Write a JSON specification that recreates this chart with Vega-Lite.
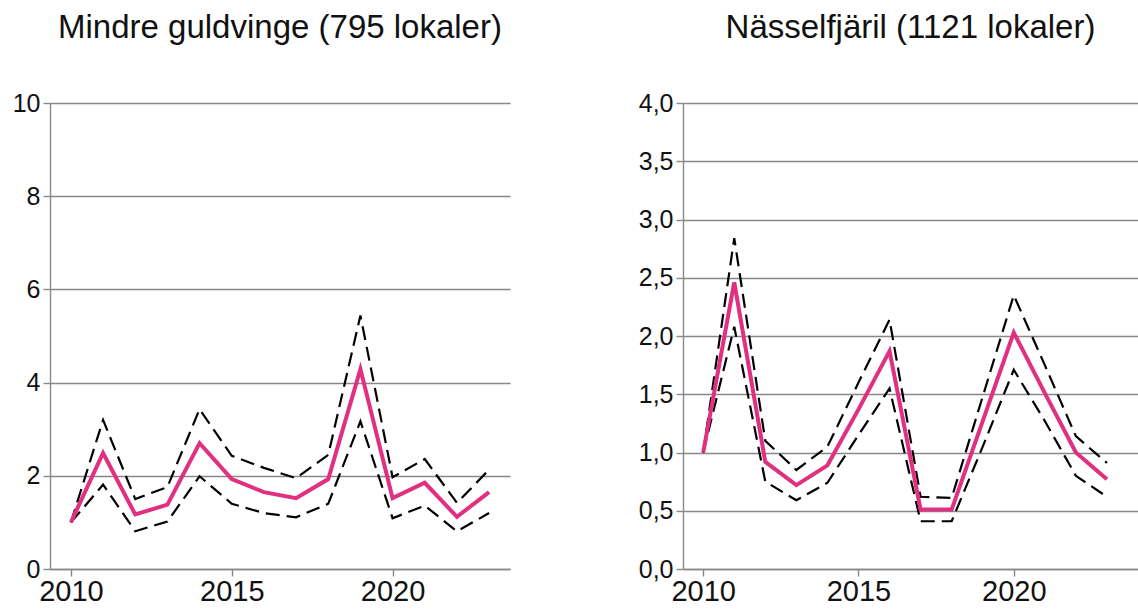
{
  "$schema": "https://vega.github.io/schema/vega-lite/v6.json",
  "background": "white",
  "padding": {"top": 12, "left": 0, "right": 0, "bottom": 0},
  "spacing": 113,
  "config": {
    "view": {"stroke": null},
    "font": "Liberation Sans",
    "title": {"font": "Liberation Sans", "fontSize": 33, "fontWeight": "normal", "color": "#111", "frame": "group", "anchor": "middle", "offset": 46},
    "axis": {
      "domainColor": "#888", "domainWidth": 1.4, "tickColor": "#888", "tickWidth": 1.4, "tickSize": 7,
      "gridColor": "#888", "gridWidth": 1.4, "labelFont": "Liberation Sans", "labelFontSize": 25,
      "labelColor": "#111", "labelPadding": 3, "title": null
    },
    "axisX": {"labelFontSize": 29, "labelPadding": 1}
  },
  "datasets": {
    "guld": [
      {"year": 2010, "est": 1.0, "lo": 1.0, "hi": 1.0},
      {"year": 2011, "est": 2.49, "lo": 1.81, "hi": 3.2},
      {"year": 2012, "est": 1.17, "lo": 0.81, "hi": 1.5},
      {"year": 2013, "est": 1.38, "lo": 1.02, "hi": 1.76},
      {"year": 2014, "est": 2.7, "lo": 1.99, "hi": 3.43},
      {"year": 2015, "est": 1.93, "lo": 1.4, "hi": 2.43},
      {"year": 2016, "est": 1.65, "lo": 1.2, "hi": 2.17},
      {"year": 2017, "est": 1.52, "lo": 1.11, "hi": 1.95},
      {"year": 2018, "est": 1.93, "lo": 1.4, "hi": 2.45},
      {"year": 2019, "est": 4.29, "lo": 3.17, "hi": 5.44},
      {"year": 2020, "est": 1.52, "lo": 1.09, "hi": 1.97},
      {"year": 2021, "est": 1.85, "lo": 1.36, "hi": 2.36},
      {"year": 2022, "est": 1.12, "lo": 0.81, "hi": 1.42},
      {"year": 2023, "est": 1.65, "lo": 1.2, "hi": 2.13}
    ],
    "nassel": [
      {"year": 2010, "est": 1.0, "lo": 1.0, "hi": 1.0},
      {"year": 2011, "est": 2.46, "lo": 2.08, "hi": 2.84},
      {"year": 2012, "est": 0.92, "lo": 0.75, "hi": 1.1},
      {"year": 2013, "est": 0.72, "lo": 0.59, "hi": 0.85},
      {"year": 2014, "est": 0.89, "lo": 0.74, "hi": 1.05},
      {"year": 2015, "est": 1.37, "lo": 1.15, "hi": 1.6},
      {"year": 2016, "est": 1.87, "lo": 1.55, "hi": 2.14},
      {"year": 2017, "est": 0.51, "lo": 0.41, "hi": 0.62},
      {"year": 2018, "est": 0.51, "lo": 0.41, "hi": 0.61},
      {"year": 2019, "est": 1.27, "lo": 1.05, "hi": 1.48},
      {"year": 2020, "est": 2.03, "lo": 1.71, "hi": 2.35},
      {"year": 2021, "est": 1.51, "lo": 1.27, "hi": 1.75},
      {"year": 2022, "est": 1.0, "lo": 0.8, "hi": 1.14},
      {"year": 2023, "est": 0.77, "lo": 0.62, "hi": 0.91}
    ]
  },
  "hconcat": [
    {
      "title": "Mindre guldvinge (795 lokaler)",
      "width": 460,
      "height": 466,
      "data": {"name": "guld"},
      "encoding": {
        "x": {"field": "year", "type": "quantitative",
              "scale": {"domain": [2009.35, 2023.65], "nice": false, "zero": false},
              "axis": {"values": [2010, 2015, 2020], "format": "d", "grid": false}}
      },
      "layer": [
        {"mark": {"type": "line", "color": "black", "strokeWidth": 2.2, "strokeDash": [14, 7]},
         "encoding": {"y": {"field": "hi", "type": "quantitative",
            "scale": {"domain": [0, 10], "nice": false},
            "axis": {"values": [0, 2, 4, 6, 8, 10], "grid": true, "minExtent": 50, "maxExtent": 50}}}},
        {"mark": {"type": "line", "color": "black", "strokeWidth": 2.2, "strokeDash": [14, 7]},
         "encoding": {"y": {"field": "lo", "type": "quantitative"}}},
        {"mark": {"type": "line", "color": "#e0307f", "strokeWidth": 4},
         "encoding": {"y": {"field": "est", "type": "quantitative"}}}
      ]
    },
    {
      "title": "Nässelfjäril (1121 lokaler)",
      "width": 455,
      "height": 466,
      "data": {"name": "nassel"},
      "encoding": {
        "x": {"field": "year", "type": "quantitative",
              "scale": {"domain": [2009.35, 2024], "nice": false, "zero": false},
              "axis": {"values": [2010, 2015, 2020], "format": "d", "grid": false}}
      },
      "layer": [
        {"mark": {"type": "line", "color": "black", "strokeWidth": 2.2, "strokeDash": [14, 7]},
         "encoding": {"y": {"field": "hi", "type": "quantitative",
            "scale": {"domain": [0, 4], "nice": false},
            "axis": {"values": [0, 0.5, 1, 1.5, 2, 2.5, 3, 3.5, 4], "grid": true, "minExtent": 60, "maxExtent": 60,
                     "labelExpr": "replace(format(datum.value, '.1f'), '.', ',')"}}}},
        {"mark": {"type": "line", "color": "black", "strokeWidth": 2.2, "strokeDash": [14, 7]},
         "encoding": {"y": {"field": "lo", "type": "quantitative"}}},
        {"mark": {"type": "line", "color": "#e0307f", "strokeWidth": 4},
         "encoding": {"y": {"field": "est", "type": "quantitative"}}}
      ]
    }
  ]
}
